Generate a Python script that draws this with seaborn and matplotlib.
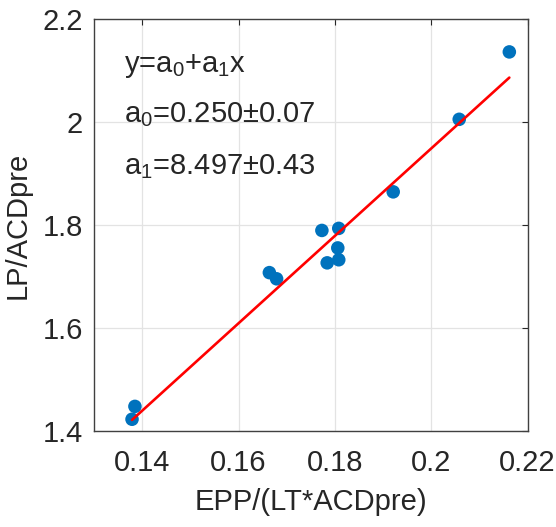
import matplotlib
matplotlib.use("Agg")
import matplotlib.pyplot as plt
import seaborn as sns
import numpy as np
import pandas as pd

# data
epp_ratio = [0.2162, 0.2058, 0.1921, 0.1773, 0.1808, 0.1806, 0.1808, 0.1784,
             0.1664, 0.1679, 0.1385, 0.1379]
lp_ratio = [2.137, 2.006, 1.865, 1.790, 1.794, 1.756, 1.733, 1.727,
            1.708, 1.696, 1.448, 1.423]
a0 = 0.250
a1 = 8.497
x_ticks = [0.14, 0.16, 0.18, 0.2, 0.22]
x_tick_labels = ["0.14", "0.16", "0.18", "0.2", "0.22"]
y_ticks = [1.4, 1.6, 1.8, 2.0, 2.2]
y_tick_labels = ["1.4", "1.6", "1.8", "2", "2.2"]

sns.set_style("whitegrid")
plt.rcParams["font.family"] = ["Liberation Sans", "DejaVu Sans"]
plt.rcParams["mathtext.fontset"] = "custom"
plt.rcParams["mathtext.rm"] = "Liberation Sans"
plt.rcParams["mathtext.it"] = "Liberation Sans"
plt.rcParams["mathtext.default"] = "rm"

df = pd.DataFrame({"x": epp_ratio, "y": lp_ratio})
x_fit = np.array([min(epp_ratio), max(epp_ratio)])
fit = pd.DataFrame({"x": x_fit, "y": a0 + a1 * x_fit})

fig = plt.figure(figsize=(5.56, 5.27), dpi=100)
ax = fig.add_axes([0.169, 0.182, 0.780, 0.781])

sns.scatterplot(data=df, x="x", y="y", ax=ax, s=95, color="#0072BD",
                edgecolor="none", zorder=3)
sns.lineplot(data=fit, x="x", y="y", ax=ax, color="red", linewidth=1.9,
             zorder=4)

ax.set_xlim(0.13, 0.22)
ax.set_ylim(1.4, 2.2)
ax.set_xticks(x_ticks)
ax.set_xticklabels(x_tick_labels)
ax.set_yticks(y_ticks)
ax.set_yticklabels(y_tick_labels)
ax.tick_params(axis="both", labelsize=21, colors="#262626", direction="in",
               length=4, width=0.8, top=True, right=True)
ax.tick_params(axis="x", pad=13)
ax.tick_params(axis="y", pad=8)
ax.grid(True, color="#e3e3e3", linewidth=0.9)
for spine in ax.spines.values():
    spine.set_color("#404040")
    spine.set_linewidth(1.0)

ax.set_xlabel("EPP/(LT*ACDpre)", fontsize=21, color="#262626", labelpad=8)
ax.set_ylabel("LP/ACDpre", fontsize=21, color="#262626", labelpad=8)

ax.text(0.1362, 2.098, r"y=a$_0$+a$_1$x", fontsize=21, color="#262626",
        va="baseline")
ax.text(0.1362, 2.000, "a$_0$=0.250\u00b10.07", fontsize=21,
        color="#262626", va="baseline")
ax.text(0.1362, 1.900, "a$_1$=8.497\u00b10.43", fontsize=21,
        color="#262626", va="baseline")

fig.savefig("out.png", dpi=100)
